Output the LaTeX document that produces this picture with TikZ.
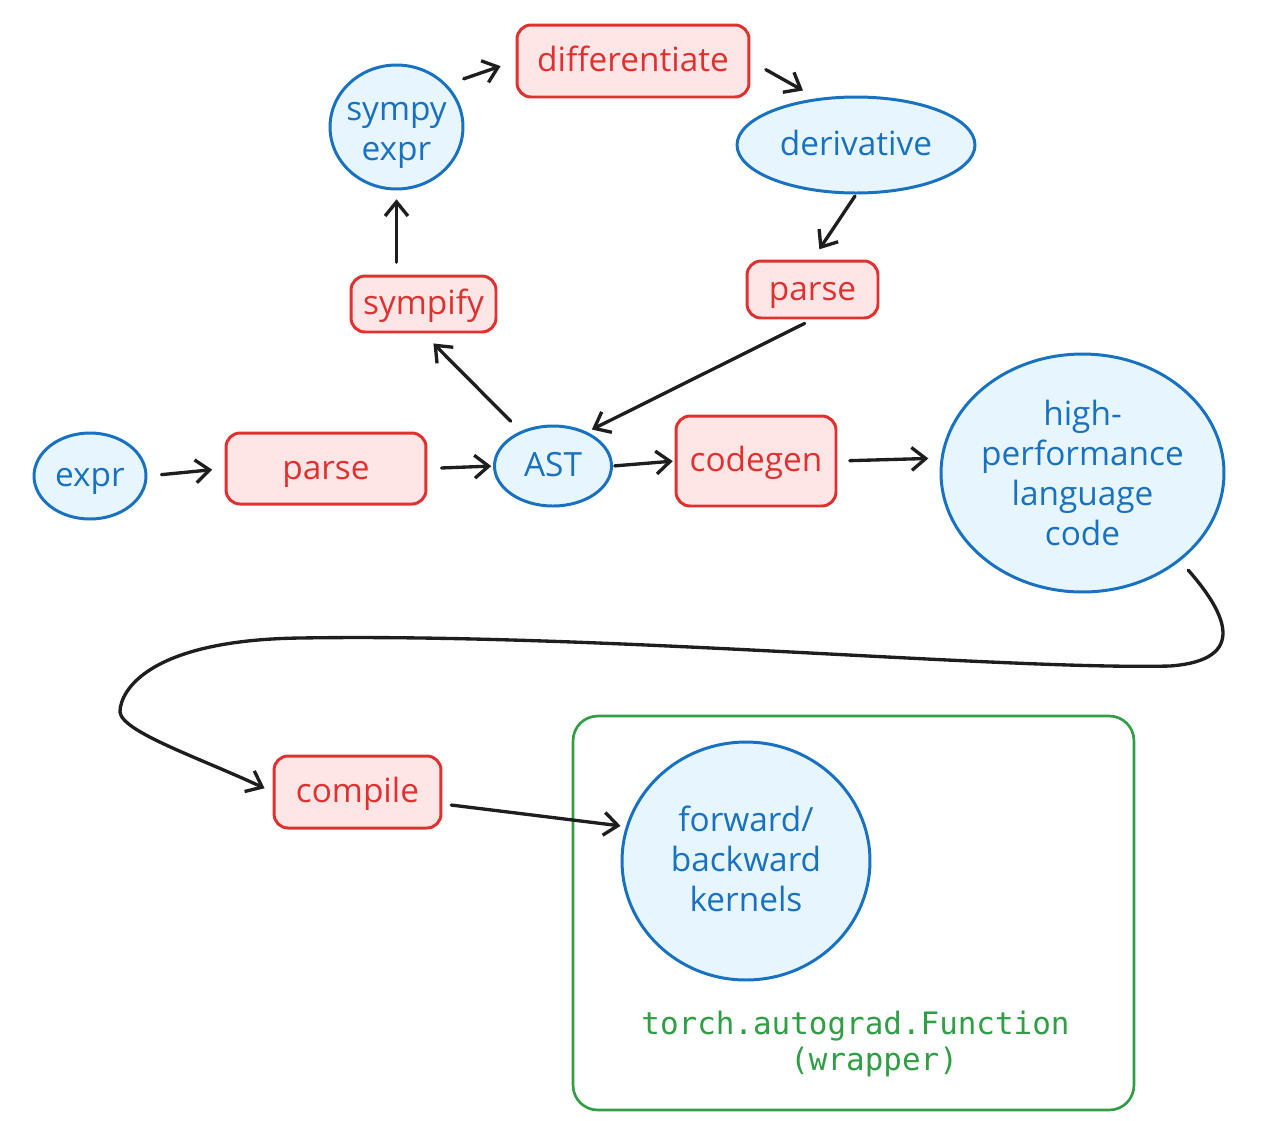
\documentclass[tikz,border=0pt]{standalone}
\usepackage{fontspec}
\setmainfont{Open Sans}
\setmonofont{DejaVu Sans Mono}
\usetikzlibrary{shapes.geometric}
\usetikzlibrary{arrows.meta}

\definecolor{inkblue}{HTML}{1971C2}
\definecolor{fillblue}{HTML}{E7F5FF}
\definecolor{inkred}{HTML}{E03131}
\definecolor{fillred}{HTML}{FFE6E6}
\definecolor{inkgreen}{HTML}{2F9E44}
\definecolor{ink}{HTML}{1E1E1E}

\begin{document}
\begin{tikzpicture}[
      x=0.02cm, y=-0.02cm, >={Straight Barb[length=8pt,width=13pt]},
      every node/.style={font=\fontsize{19}{22.7}\selectfont},
      blob/.style={ellipse, draw=inkblue, fill=fillblue, line width=1.7pt, inner sep=0pt},
      blobtext/.style={text=inkblue, align=center},
      oneline/.style={text height=12pt, text depth=0pt},
      op/.style={rectangle, rounded corners=8pt, draw=inkred, fill=fillred, text=inkred,
                 line width=1.7pt, inner sep=0pt, oneline},
      frame/.style={rectangle, rounded corners=14pt, draw=inkgreen, line width=1.5pt},
      link/.style={->, draw=ink, line width=1.9pt, line cap=round, line join=round}]

      \useasboundingbox (0,0) rectangle (1266,1120);

      % wrapper frame
      \node[frame, minimum width=11.22cm, minimum height=7.88cm] (wrapper) at (853.5,913) {};
      \node[font=\ttfamily\fontsize{17.6}{20}\selectfont, text=inkgreen, align=left] (fnname)
        at (855.5,1044) {torch.autograd.Function\\\phantom{xxxxxxxx}(wrapper)};

      % data
      \node[blob, minimum width=2.24cm, minimum height=1.72cm, label={[blobtext, oneline]center:expr}] (expr) at (90,476) {};
      \node[blob, minimum width=2.34cm, minimum height=1.6cm, label={[blobtext, oneline]center:AST}] (AST) at (553,466) {};
      \node[blob, minimum width=2.66cm, minimum height=2.48cm,
        label={[blobtext, yshift=-5pt]center:sympy\\expr}] (sympy) at (396.5,127) {};
      \node[blob, minimum width=4.76cm, minimum height=1.92cm, label={[blobtext, oneline]center:derivative}] (derivative) at (856,145) {};
      \node[blob, minimum width=5.66cm, minimum height=4.76cm,
        label={[blobtext]center:high-\\performance\\language\\code}] (hp) at (1082.5,473) {};
      \node[blob, minimum width=4.96cm, minimum height=4.76cm,
        label={[blobtext, yshift=1pt]center:forward/\\backward\\kernels}] (kernels) at (746,861) {};

      % steps
      \node[op, minimum width=4cm, minimum height=1.42cm] (parse1) at (326,468.5) {parse};
      \node[op, minimum width=3.2cm, minimum height=1.8cm] (codegen) at (756,461) {codegen};
      \node[op, minimum width=2.9cm, minimum height=1.12cm] (sympify) at (423.5,304) {sympify};
      \node[op, minimum width=4.64cm, minimum height=1.44cm] (differentiate) at (633,61) {differentiate};
      \node[op, minimum width=2.62cm, minimum height=1.14cm] (parse2) at (812.5,289.5) {parse};
      \node[op, minimum width=3.34cm, minimum height=1.44cm] (compile) at (357.5,792) {compile};

      % edges
      \draw[link, shorten <=8pt, shorten >=7pt] (expr.east) -- (parse1.west);
      \draw[link, shorten <=8pt, shorten >=1pt] (parse1.east) -- (AST.west);
      \draw[link, shorten <=1pt, shorten >=1pt] (AST.east) -- (codegen.west);
      \draw[link, shorten <=7pt, shorten >=7pt] (codegen.east) -- (hp.174);
      \draw[link, shorten <=8pt, shorten >=8pt] (AST.133) -- (sympify.south);
      \draw[link, shorten <=7pt, shorten >=5pt] (sympify.north -| sympy.south) -- (sympy.south);
      \draw[link, shorten <=10pt, shorten >=9pt] (sympy.40) -- (differentiate.west);
      \draw[link, shorten <=10pt, shorten >=9pt] (differentiate.east) -- (derivative.130);
      \draw[link, shorten <=1pt, shorten >=7pt] (derivative.south) -- (parse2.north);
      \draw[link, shorten <=5pt, shorten >=3pt] (parse2.south) -- (AST.45);
      \draw[link, shorten <=5pt, shorten >=3pt] (compile.-8) -- (kernels.164);
      \draw[link, shorten <=7pt, shorten >=5pt] (hp.-42)
        .. controls (1225,612) and (1250,660) .. (1170,666)
        .. controls (1000,670) and (600,633) .. (300,638)
        .. controls (150,640) and (120,690) .. (120,712)
        .. controls (122,732) and (200,758) .. (compile.west);
    \end{tikzpicture}
\end{document}
